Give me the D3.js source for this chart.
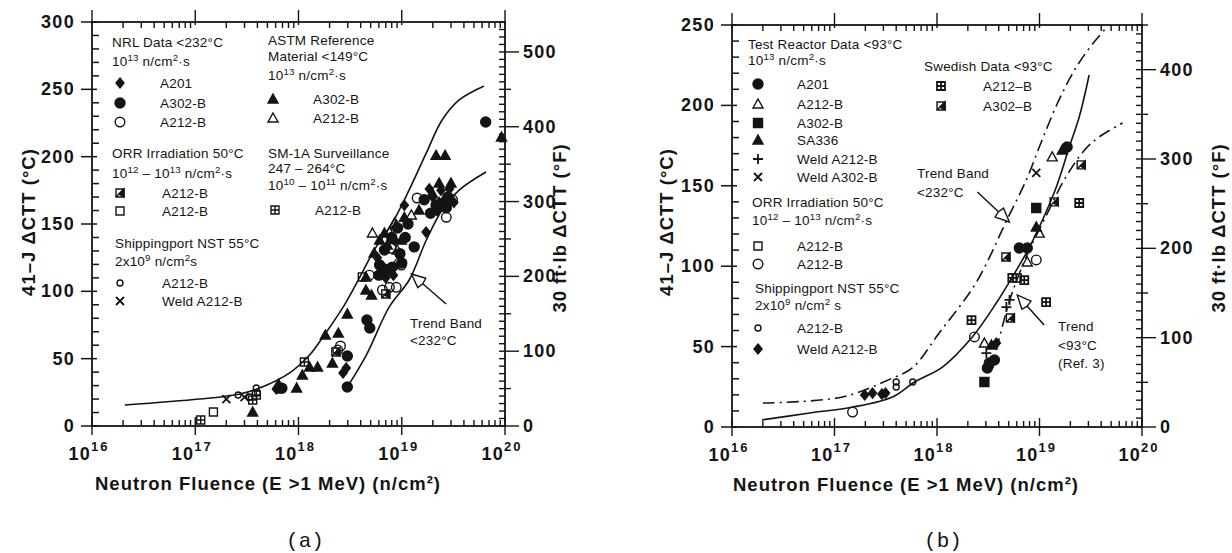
<!DOCTYPE html>
<html>
<head>
<meta charset="utf-8">
<script src="https://cdn.jsdelivr.net/npm/d3@7"></script>
<style>
  body { margin: 0; background: #fff; }
  svg text { font-family: "Liberation Sans", Arial, sans-serif; fill: #141414; }
  .tick-label { font-weight: 700; font-size: 18px; letter-spacing: 1.3px; }
  .axis-title { font-weight: 700; font-size: 18.5px; letter-spacing: 1px; }
  .legend { font-size: 13.5px; letter-spacing: 0.2px; }
  .caption { font-family: "Liberation Mono", "DejaVu Sans Mono", monospace; font-size: 21px; }
</style>
</head>
<body>
<svg id="chart" width="1232" height="553"></svg>
<script>
// ---- panel (a): points are [fluence n/cm2, delta CTT degC]
const aNrlA201 = [[6.1e17, 27.5], [2.7e18, 39.4], [2.9e18, 43], [5.8e18, 125], [7.0e18, 110], [8.3e18, 112], [8.5e18, 138],
  [1.06e19, 164], [1.72e19, 144], [1.85e19, 176], [2.0e19, 170], [2.2e19, 160], [2.3e19, 166], [2.4e19, 175],
  [2.6e19, 168], [2.9e19, 176], [3.2e19, 166]];
const aNrlA302B = [[6.9e17, 28], [2.97e18, 29], [2.97e18, 52], [4.6e18, 78.7], [4.9e18, 72.8], [6.0e18, 112], [6.1e18, 119.5],
  [6.6e18, 117], [6.8e18, 130.7], [7.1e18, 115.8], [8.0e18, 140], [8.1e18, 118], [9.1e18, 147], [9.6e18, 128],
  [1.0e19, 121], [1.08e19, 140], [1.15e19, 150], [1.32e19, 133], [1.65e19, 168], [1.9e19, 158], [2.15e19, 164],
  [2.45e19, 163], [2.7e19, 162], [2.8e19, 170], [6.5e19, 225.7]];
const aNrlA212B = [[2.4e18, 56.4], [2.55e18, 59.4], [4.85e18, 112], [6.5e18, 101], [7.6e18, 103], [7.9e18, 132],
  [8.85e18, 103], [9.45e18, 121], [9.9e18, 119.5], [1.41e19, 169.3], [2.7e19, 155], [3.1e19, 168]];
const aOrrHatched = [[2.3e18, 55], [7.0e18, 98]];
const aOrrOpen = [[1.5e17, 10.4], [4.15e18, 110.6]];
const aShipA212B = [[2.6e17, 23], [3.35e17, 21.5], [3.9e17, 28.2], [4.0e17, 24.5], [6.4e17, 26.7]];
const aShipWeld = [[2.0e17, 20], [3.0e17, 21.5]];
const aAstmA302B = [[3.6e17, 10.4], [6.4e17, 31.2], [9.6e17, 28.2], [1.09e18, 37.9], [1.28e18, 43.8], [1.53e18, 43.8],
  [1.82e18, 67.6], [2.13e18, 46.8], [2.43e18, 69], [2.97e18, 83.2], [4.5e18, 101], [4.5e18, 110.6], [5.1e18, 97.3],
  [5.4e18, 128.5], [6.1e18, 138], [6.8e18, 143.3], [7.25e18, 134.4], [8.85e18, 149.3], [9.9e18, 138], [1.06e19, 155],
  [1.47e19, 160.4], [1.97e19, 173], [2.15e19, 201], [2.3e19, 180.4], [2.63e19, 201], [3.0e19, 180.4], [9.25e19, 214.6]];
const aAstmA212B = [[5.2e18, 143.3], [7.6e18, 144], [8.5e18, 150.7], [9.05e18, 130.7], [1.24e19, 156.7]];
const aSm1aA212B = [[1.13e17, 4.5], [3.6e17, 19.3], [3.9e17, 23], [1.14e18, 47.5]];
const aBandUpper = [[2.08e16, 15.6], [1.1e17, 20.0], [2.7e17, 23.8], [4.7e17, 29.7], [8.2e17, 39.4], [1.28e18, 52.7],
  [1.78e18, 67.6], [2.78e18, 89.8], [3.88e18, 109.8], [5.42e18, 130.7], [8.1e18, 150.8], [1.18e19, 175.3],
  [1.73e19, 202.8], [2.46e19, 227.2], [3.6e19, 242.1], [6.27e19, 252.5]];
const aBandLower = [[2.97e18, 29.0], [4.54e18, 52.7], [7.57e18, 88.4], [1.18e19, 108.4], [1.73e19, 138.1],
  [2.46e19, 160.4], [3.6e19, 175.2], [6.55e19, 188.6]];

// ---- panel (b)
const bTestA201 = [[3.1e18, 36.7], [3.24e18, 39.8], [3.63e18, 41.7], [6.35e18, 111.3], [7.6e18, 111.3], [1.86e19, 174.1]];
const bTestA212B = [[2.9e18, 52.2], [7.6e18, 102.6], [9.95e18, 120.6], [1.33e19, 168]];
const bTestA302B = [[2.9e18, 28], [9.3e18, 136.2]];
const bTestSA336 = [[3.4e18, 51], [9.3e18, 124.4], [1.67e19, 172.3]];
const bTestWeldA212B = [[3.03e18, 46], [4.75e18, 74.6], [5.1e18, 79]];
const bTestWeldA302B = [[9.3e18, 158]];
const bOrrSquare = [[6.08e18, 92.7]];
const bOrrCircle = [[1.5e17, 9.3], [2.32e18, 56], [9.3e18, 103.9]];
const bShipA212B = [[4.0e17, 24.9], [4.0e17, 28], [5.8e17, 28]];
const bShipWeld = [[1.97e17, 19.9], [2.35e17, 21.1], [2.9e17, 20.5], [3.15e17, 21.1], [3.24e18, 37.3], [3.8e18, 52.2]];
const bSwedA212B = [[2.17e18, 66.5], [5.43e18, 92.7], [7.1e18, 91.4], [1.16e19, 77.7], [2.44e19, 139.3]];
const bSwedA302B = [[4.7e18, 105.7], [5.2e18, 67.8], [1.39e19, 140], [2.55e19, 163]];
const bTrend93 = [[1.96e16, 4.4], [5.74e16, 8.7], [1.51e17, 12.4], [3.69e17, 18.7], [6.04e17, 28.0], [1.13e18, 37.3],
  [2.21e18, 56.0], [3.79e18, 77.1], [5.43e18, 93.3], [7.43e18, 108.2], [9.95e18, 124.4], [1.46e19, 149.3],
  [1.95e19, 174.1], [2.44e19, 192.8], [3.05e19, 218.9]];
const bBandUpper = [[2.0e16, 14.9], [1.2e17, 18.7], [3.7e17, 30.5], [5.75e17, 36.7], [1.05e18, 58.5], [2.4e18, 89.6],
  [4.8e18, 128.7], [7.43e18, 153.6], [1.06e19, 178.5], [1.55e19, 203.4], [2.29e19, 223.9], [3.24e19, 237.6],
  [4.57e19, 248.8]];
const bBandLower = [[3.8e18, 47.9], [5.13e18, 79.0], [7.41e18, 105.7], [1.17e19, 131.8], [1.74e19, 153.6],
  [2.75e19, 172.3], [3.8e19, 180.3], [6.46e19, 189.1]];

const sup = (s) => [s, "sup"];

// marker shapes: list of path parts, filled or stroked
const shapes = {
  diamond: [{ d: "M0,-5L4,0L0,5L-4,0Z", fill: true }],
  circleFilled: [{ d: circle(5), fill: true }],
  circleOpen: [{ d: circle(4.8), fill: false }],
  circleSmall: [{ d: circle(3), fill: false }],
  triFilled: [{ d: "M0,-5L5,4L-5,4Z", fill: true }],
  triOpen: [{ d: "M0,-5L5,4L-5,4Z", fill: false }],
  squareOpen: [{ d: "M-4,-4h8v8h-8Z", fill: false }],
  squareFilled: [{ d: "M-4.5,-4.5h9v9h-9Z", fill: true }],
  squareGrid: [{ d: "M-4,-4h8v8h-8Z M0,-4v8 M-4,0h8", fill: false }],
  squareGridDark: [{ d: "M-4,-4h8v8h-8Z M0,-4v8 M-4,0h8", fill: false, heavy: true }],
  squareHatch: [{ d: "M-4,-4h8v8h-8Z M-4,4L4,-4", fill: false }, { d: "M-1,1L4,-4V4Z", fill: true }],
  cross: [{ d: "M-4,-4L4,4M4,-4L-4,4", fill: false, heavy: true }],
  plus: [{ d: "M0,-5V5M-5,0H5", fill: false, heavy: true }]
};

function circle(r) {
  return `M${-r},0a${r},${r} 0 1,0 ${2 * r},0a${r},${r} 0 1,0 ${-2 * r},0Z`;
}

const panels = [
  {
    xRange: [92, 505], yRange: [426, 22], cMax: 300, fMax: 500,
    series: [
      [aNrlA201, "diamond"], [aNrlA302B, "circleFilled"], [aAstmA302B, "triFilled"], [aNrlA212B, "circleOpen"],
      [aOrrHatched, "squareHatch"], [aOrrOpen, "squareOpen"], [aShipA212B, "circleSmall"], [aShipWeld, "cross"],
      [aAstmA212B, "triOpen"], [aSm1aA212B, "squareGrid"]
    ],
    curves: [[aBandUpper, null], [aBandLower, null]],
    arrows: [[[2.69e19, 90.6], [1.24e19, 112.9]]],
    texts: [
      [112, 47, ["NRL Data <232°C"]], [112, 66, ["10", sup("13"), " n/cm", sup("2"), "·s"]],
      [112, 158, ["ORR Irradiation 50°C"]], [112, 178, ["10", sup("12"), " – 10", sup("13"), " n/cm", sup("2"), "·s"]],
      [115, 248, ["Shippingport NST 55°C"]], [115, 266, ["2x10", sup("9"), " n/cm", sup("2"), "s"]],
      [268, 45, ["ASTM Reference"]], [268, 61, ["Material <149°C"]], [268, 80, ["10", sup("13"), " n/cm", sup("2"), "·s"]],
      [268, 158, ["SM-1A Surveillance"]], [268, 173, ["247 – 264°C"]],
      [268, 190, ["10", sup("10"), " – 10", sup("11"), " n/cm", sup("2"), "·s"]],
      [410, 328, ["Trend Band"]], [410, 345, ["<232°C"]]
    ],
    items: [
      [120, 83, "diamond", 160, "A201"], [120, 103, "circleFilled", 160, "A302-B"], [120, 122, "circleOpen", 160, "A212-B"],
      [120, 193, "squareHatch", 162, "A212-B"], [120, 211, "squareOpen", 162, "A212-B"],
      [120, 283, "circleSmall", 162, "A212-B"], [120, 301, "cross", 162, "Weld A212-B"],
      [273, 99, "triFilled", 313, "A302-B"], [273, 118, "triOpen", 313, "A212-B"], [275, 210, "squareGrid", 315, "A212-B"]
    ],
    leftTitleX: 35, rightTitleX: 566, bottomTitleX: 268, caption: "(a)", captionX: 305
  },
  {
    xRange: [732, 1142], yRange: [427, 25], cMax: 250, fMax: 400,
    series: [
      [bTestA201, "circleFilled"], [bTestSA336, "triFilled"], [bTestA302B, "squareFilled"], [bShipWeld, "diamond"],
      [bTestA212B, "triOpen"], [bTestWeldA212B, "plus"], [bTestWeldA302B, "cross"], [bOrrSquare, "squareOpen"],
      [bOrrCircle, "circleOpen"], [bShipA212B, "circleSmall"], [bSwedA212B, "squareGridDark"], [bSwedA302B, "squareHatch"]
    ],
    curves: [[bTrend93, null], [bBandUpper, "12 5 2 5"], [bBandLower, "12 5 2 5"]],
    arrows: [[[2.48e18, 146.1], [5.08e18, 127.5]], [[1.11e19, 63.4], [6.07e18, 82.1]]],
    texts: [
      [748, 49, ["Test Reactor Data <93°C"]], [748, 65, ["10", sup("13"), " n/cm", sup("2"), "·s"]],
      [752, 207, ["ORR Irradiation 50°C"]], [752, 225, ["10", sup("12"), " – 10", sup("13"), " n/cm", sup("2"), "·s"]],
      [755, 293, ["Shippingport NST 55°C"]], [755, 310, ["2x10", sup("9"), " n/cm", sup("2"), " s"]],
      [924, 71, ["Swedish Data <93°C"]],
      [917, 178, ["Trend Band"]], [917, 197, ["<232°C"]],
      [1058, 331, ["Trend"]], [1058, 350, ["<93°C"]], [1058, 368, ["(Ref. 3)"]]
    ],
    items: [
      [758, 84, "circleFilled", 797, "A201"], [758, 104, "triOpen", 797, "A212-B"], [758, 123, "squareFilled", 797, "A302-B"],
      [758, 140, "triFilled", 797, "SA336"], [758, 159, "plus", 797, "Weld A212-B"], [758, 177, "cross", 797, "Weld A302-B"],
      [758, 246, "squareOpen", 797, "A212-B"], [758, 264, "circleOpen", 797, "A212-B"],
      [758, 328, "circleSmall", 797, "A212-B"], [758, 349, "diamond", 797, "Weld A212-B"],
      [941, 86, "squareGridDark", 983, "A212–B"], [941, 106, "squareHatch", 983, "A302–B"]
    ],
    leftTitleX: 673, rightTitleX: 1225, bottomTitleX: 906, caption: "(b)", captionX: 943
  }
];

const svg = d3.select("#chart");
const ink = "#141414";

function richText(sel, parts) {
  let lift = 0;
  parts.forEach((part) => {
    const [str, kind] = Array.isArray(part) ? part : [part, ""];
    if (kind === "sup") {
      sel.append("tspan").attr("dy", -5 - lift).attr("font-size", "0.72em").text(str);
      lift = -5;
    } else {
      sel.append("tspan").attr("dy", -lift).text(str);
      lift = 0;
    }
  });
}

function drawShape(g, name, cx, cy) {
  const mark = g.append("g").attr("transform", `translate(${cx},${cy})`);
  shapes[name].forEach((part) => {
    mark
      .append("path")
      .attr("d", part.d)
      .attr("fill", part.fill ? ink : "#fff")
      .attr("fill-opacity", part.fill ? 1 : 0)
      .attr("stroke", ink)
      .attr("stroke-width", part.heavy ? 1.8 : 1.4);
  });
}

function drawArrow(g, x1, y1, x2, y2) {
  const angle = Math.atan2(y2 - y1, x2 - x1);
  const len = 15;
  const half = 0.42;
  const bx = x2 - Math.cos(angle) * len;
  const by = y2 - Math.sin(angle) * len;
  g.append("line").attr("x1", x1).attr("y1", y1).attr("x2", bx).attr("y2", by)
    .attr("stroke", ink).attr("stroke-width", 1.5);
  const p1 = [x2 - Math.cos(angle - half) * len, y2 - Math.sin(angle - half) * len];
  const p2 = [x2 - Math.cos(angle + half) * len, y2 - Math.sin(angle + half) * len];
  g.append("path")
    .attr("d", `M${p1[0]},${p1[1]}L${x2},${y2}L${p2[0]},${p2[1]}L${bx},${by}Z`)
    .attr("fill", "#fff").attr("stroke", ink).attr("stroke-width", 1.4).attr("stroke-linejoin", "miter");
}

panels.forEach((p) => {
  const g = svg.append("g");
  const x = d3.scaleLog().domain([1e16, 1e20]).range(p.xRange);
  const y = d3.scaleLinear().domain([0, p.cMax]).range(p.yRange);
  const yF = d3.scaleLinear().domain([0, p.cMax * 1.8]).range(p.yRange);
  const [x0, x1] = p.xRange;
  const [yb, yt] = p.yRange;
  const isDecade = (v) => Math.abs(Math.log10(v) - Math.round(Math.log10(v))) < 1e-9;

  g.append("rect").attr("x", x0).attr("y", yt).attr("width", x1 - x0).attr("height", yb - yt)
    .attr("fill", "none").attr("stroke", ink).attr("stroke-width", 1.8);

  // left axis ticks (degC)
  g.append("g").selectAll("line").data(d3.range(0, p.cMax + 0.1, 10)).join("line")
    .attr("x1", (v) => (v % 50 === 0 ? x0 - 11 : x0)).attr("x2", (v) => (v % 50 === 0 ? x0 + 5 : x0 + 7))
    .attr("y1", (v) => y(v)).attr("y2", (v) => y(v)).attr("stroke", ink).attr("stroke-width", 1.5);
  g.append("g").selectAll("text").data(d3.range(0, p.cMax + 0.1, 50)).join("text")
    .attr("class", "tick-label").attr("x", x0 - 17).attr("y", (v) => y(v) + 6).attr("text-anchor", "end").text((v) => v);

  // right axis ticks (degF)
  g.append("g").selectAll("line").data(d3.range(0, p.cMax * 1.8 + 0.1, 10)).join("line")
    .attr("x1", x1 - 6)
    .attr("x2", (v) => (v % 100 === 0 ? x1 + 14 : v % 50 === 0 ? x1 + 6 : x1))
    .attr("y1", (v) => yF(v)).attr("y2", (v) => yF(v)).attr("stroke", ink).attr("stroke-width", 1.4);
  g.append("g").selectAll("text").data(d3.range(0, p.fMax + 0.1, 100)).join("text")
    .attr("class", "tick-label").attr("x", x1 + 18).attr("y", (v) => yF(v) + 6).text((v) => v);

  // bottom and top log ticks
  const logTicks = x.ticks();
  g.append("g").selectAll("line").data(logTicks).join("line")
    .attr("x1", (v) => x(v)).attr("x2", (v) => x(v))
    .attr("y1", (v) => (isDecade(v) ? yb + 9 : yb)).attr("y2", (v) => (isDecade(v) ? yb - 9 : yb - 6))
    .attr("stroke", ink).attr("stroke-width", 1.4);
  g.append("g").selectAll("line").data(logTicks).join("line")
    .attr("x1", (v) => x(v)).attr("x2", (v) => x(v))
    .attr("y1", (v) => (isDecade(v) ? yt - 12 : yt)).attr("y2", (v) => (isDecade(v) ? yt + 3 : yt + 6))
    .attr("stroke", ink).attr("stroke-width", 1.4);
  g.append("g").selectAll("text").data(logTicks.filter(isDecade)).join("text")
    .attr("class", "tick-label").attr("x", (v) => x(v) - 3).attr("y", yb + 34).attr("text-anchor", "middle")
    .each(function (v) {
      const t = d3.select(this);
      t.append("tspan").text("10");
      t.append("tspan").attr("dy", -9).attr("font-size", "13px").attr("letter-spacing", "2px").text(Math.round(Math.log10(v)));
    });

  // axis titles
  g.append("text").attr("class", "axis-title").attr("x", p.bottomTitleX).attr("y", yb + 64).attr("text-anchor", "middle")
    .text("Neutron Fluence  (E >1 MeV)  (n/cm²)");
  g.append("text").attr("class", "axis-title").attr("text-anchor", "middle")
    .attr("transform", `translate(${p.leftTitleX},222) rotate(-90)`).text("41–J ΔCTT (°C)");
  g.append("text").attr("class", "axis-title").attr("text-anchor", "middle")
    .attr("transform", `translate(${p.rightTitleX},228) rotate(-90)`).text("30 ft·lb ΔCTT (°F)");
  g.append("text").attr("class", "caption").attr("x", p.captionX).attr("y", 547).attr("text-anchor", "middle").text(p.caption);

  // trend band curves
  const line = d3.line().x((d) => x(d[0])).y((d) => y(d[1])).curve(d3.curveCatmullRom.alpha(0.5));
  p.curves.forEach(([pts, dash]) => {
    g.append("path").datum(pts).attr("d", line).attr("fill", "none").attr("stroke", ink)
      .attr("stroke-width", 1.6).attr("stroke-dasharray", dash);
  });

  // data points
  p.series.forEach(([pts, shape]) => {
    pts.forEach((d) => drawShape(g, shape, x(d[0]), y(d[1])));
  });

  p.arrows.forEach(([from, to]) => drawArrow(g, x(from[0]), y(from[1]), x(to[0]), y(to[1])));

  // legend
  p.texts.forEach(([tx, ty, parts]) => {
    richText(g.append("text").attr("class", "legend").attr("x", tx).attr("y", ty), parts);
  });
  p.items.forEach(([mx, my, shape, lx, label]) => {
    drawShape(g, shape, mx, my);
    g.append("text").attr("class", "legend").attr("x", lx).attr("y", my + 5).text(label);
  });
});
</script>
</body>
</html>
